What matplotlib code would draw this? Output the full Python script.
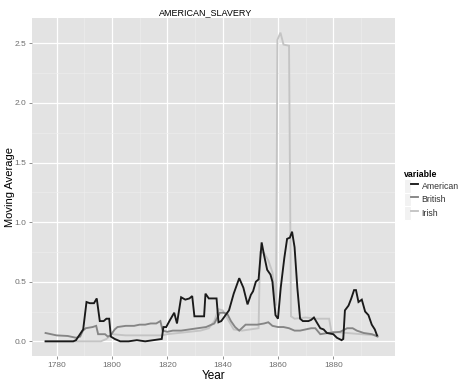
"""Moving average of AMERICAN_SLAVERY mentions by newspaper origin (ggplot look)."""

import matplotlib

matplotlib.use("Agg")
import matplotlib.pyplot as plt
from matplotlib.legend_handler import HandlerTuple
from matplotlib.lines import Line2D
from matplotlib.patches import Rectangle
from matplotlib.ticker import FixedLocator

TITLE = "AMERICAN_SLAVERY"
X_LABEL = "Year"
Y_LABEL = "Moving Average"
LEGEND_TITLE = "variable"
SERIES_NAMES = ["American", "British", "Irish"]

american_years = [
    1776, 1786, 1787, 1789.6, 1790.8, 1792, 1793.5, 1794.5, 1795.6, 1797, 1798,
    1799, 1799.6, 1801, 1803, 1806, 1809, 1812, 1815, 1818, 1818.6, 1819.6,
    1821, 1822.5, 1823.5, 1825, 1826.5, 1828, 1829, 1829.8, 1832, 1833.3,
    1833.8, 1835, 1836.5, 1837.8, 1838.5, 1839.5, 1842.3, 1844, 1846, 1847.5,
    1849, 1850.2, 1851, 1852, 1853, 1854.1, 1855, 1856.1, 1857.3, 1858,
    1859.1, 1860, 1861, 1862.3, 1863.3, 1864.3, 1865.1, 1866, 1867, 1868,
    1869, 1871, 1872, 1873, 1874, 1875.3, 1876.5, 1877.7, 1880, 1881.3, 1883,
    1883.6, 1884.2, 1885.5, 1886.5, 1887.5, 1888.2, 1889.1, 1890.3, 1891.5,
    1892.7, 1893.9, 1895, 1895.8,
]
american_values = [
    0.0, 0.0, 0.01, 0.10, 0.33, 0.32, 0.32, 0.36, 0.17, 0.17, 0.19,
    0.19, 0.04, 0.02, 0.0, 0.0, 0.01, 0.0, 0.01, 0.02, 0.12, 0.12,
    0.18, 0.24, 0.15, 0.37, 0.35, 0.36, 0.38, 0.21, 0.21, 0.21,
    0.40, 0.36, 0.36, 0.36, 0.16, 0.17, 0.26, 0.40, 0.53, 0.45,
    0.31, 0.39, 0.42, 0.50, 0.52, 0.83, 0.72, 0.60, 0.56, 0.50,
    0.22, 0.19, 0.45, 0.70, 0.86, 0.87, 0.92, 0.79, 0.45, 0.19,
    0.17, 0.17, 0.18, 0.20, 0.16, 0.11, 0.10, 0.07, 0.06, 0.03, 0.01,
    0.02, 0.26, 0.30, 0.36, 0.43, 0.43, 0.33, 0.35, 0.25,
    0.22, 0.14, 0.10, 0.05,
]

british_years = [
    1776, 1778, 1780, 1784, 1787, 1788.5, 1789.5, 1790.5, 1793, 1794.3, 1795,
    1797.5, 1798.5, 1799.5, 1801, 1802, 1805, 1808, 1810, 1812, 1814, 1816,
    1817.5, 1818.3, 1820, 1822, 1825, 1828, 1831, 1834, 1837, 1839, 1840.5,
    1841.7, 1843, 1844.5, 1846, 1848.3, 1850, 1852.5, 1855, 1856.5, 1858,
    1860, 1862, 1864, 1866, 1868, 1870, 1872, 1873.5, 1875.3, 1878, 1882.5,
    1885, 1887, 1888.5, 1891, 1894, 1896,
]
british_values = [
    0.07, 0.06, 0.05, 0.045, 0.03, 0.04, 0.09, 0.11, 0.12, 0.13, 0.06,
    0.06, 0.04, 0.05, 0.10, 0.12, 0.13, 0.13, 0.14, 0.14, 0.15, 0.15,
    0.17, 0.09, 0.08, 0.09, 0.09, 0.10, 0.11, 0.12, 0.15, 0.24, 0.24,
    0.23, 0.17, 0.12, 0.09, 0.14, 0.14, 0.14, 0.15, 0.16, 0.13,
    0.12, 0.12, 0.11, 0.09, 0.09, 0.10, 0.11, 0.11, 0.06, 0.07, 0.08,
    0.11, 0.11, 0.09, 0.07, 0.06, 0.04,
]

irish_years = [
    1776, 1796, 1798, 1800, 1805, 1810, 1815, 1818, 1820, 1824, 1828, 1832,
    1835, 1837, 1838.5, 1840, 1841.5, 1842.5, 1844, 1847, 1850, 1853, 1853.5,
    1855, 1856.5, 1858, 1859.3, 1859.8, 1860.9, 1862, 1864, 1864.7, 1866,
    1870, 1874, 1878.5, 1879.3, 1885, 1890, 1896,
]
irish_values = [
    0.0, 0.0, 0.02, 0.06, 0.05, 0.05, 0.05, 0.05, 0.06, 0.07, 0.08, 0.09,
    0.11, 0.17, 0.27, 0.26, 0.20, 0.16, 0.10, 0.09, 0.10, 0.11, 0.75,
    0.74, 0.68, 0.58, 0.30, 2.53, 2.59, 2.49, 2.48, 0.21, 0.19,
    0.20, 0.19, 0.19, 0.08, 0.07, 0.06, 0.05,
]

x_major = [1780, 1800, 1820, 1840, 1860, 1880]
x_minor = [1790, 1810, 1830, 1850, 1870, 1890]
y_major = [0.0, 0.5, 1.0, 1.5, 2.0, 2.5]
y_minor = [0.25, 0.75, 1.25, 1.75, 2.25]

COLORS = ["#1a1a1a", "#858585", "#c4c4c4"]
PANEL_BG = "#e3e3e3"
TEXT_GREY = "#6e6e6e"


def main() -> None:
    plt.rcParams["font.family"] = ["Liberation Sans", "DejaVu Sans"]
    fig = plt.figure(figsize=(4.6, 3.81), dpi=100)
    ax = fig.add_axes([32 / 460, 25 / 381, 363 / 460, 338 / 381])
    ax.set_facecolor(PANEL_BG)

    series = [
        (american_years, american_values),
        (british_years, british_values),
        (irish_years, irish_values),
    ]
    # draw Irish first so the darker lines sit on top, like the reference
    for idx in [2, 1, 0]:
        years, values = series[idx]
        ax.plot(years, values, color=COLORS[idx], lw=1.35, zorder=3,
                solid_joinstyle="miter")

    ax.set_xlim(1771.1, 1902.3)
    ax.set_ylim(-0.123, 2.713)
    ax.xaxis.set_major_locator(FixedLocator(x_major))
    ax.xaxis.set_minor_locator(FixedLocator(x_minor))
    ax.yaxis.set_major_locator(FixedLocator(y_major))
    ax.yaxis.set_minor_locator(FixedLocator(y_minor))
    ax.set_xticklabels([str(v) for v in x_major])
    ax.set_yticklabels([f"{v:.1f}" for v in y_major])
    ax.grid(True, which="major", color="white", lw=0.9, zorder=1)
    ax.grid(True, which="minor", color="#eeeeee", lw=0.45, zorder=1)
    ax.set_axisbelow(True)
    for spine in ax.spines.values():
        spine.set_visible(False)
    ax.tick_params(axis="both", which="major", length=2.5, width=0.6,
                   color="#7f7f7f", labelsize=6, labelcolor=TEXT_GREY, pad=1.5)
    ax.tick_params(axis="both", which="minor", length=0)

    ax.set_xlabel(X_LABEL, fontsize=8.5, labelpad=1)
    ax.set_ylabel(Y_LABEL, fontsize=8)
    ax.yaxis.set_label_coords(-17 / 363, 0.5)
    fig.text(206 / 460, 1 - 13 / 381, TITLE, ha="center", va="center",
             fontsize=6.5)

    handles = [
        (Rectangle((0, 0), 1, 1, facecolor="#f2f2f2", edgecolor="white", lw=0.8),
         Line2D([], [], color=c, lw=1.35))
        for c in COLORS
    ]
    leg = fig.legend(
        handles,
        SERIES_NAMES,
        title=LEGEND_TITLE,
        handler_map={tuple: HandlerTuple(ndivide=None, pad=0)},
        loc="upper left",
        bbox_to_anchor=(398 / 460, 1 - 164 / 381),
        frameon=False,
        fontsize=6.3,
        title_fontsize=6.3,
        handlelength=1.6,
        handleheight=2.0,
        labelspacing=0.0,
        handletextpad=0.4,
        borderpad=0.2,
        alignment="left",
    )
    leg.get_title().set_fontweight("bold")
    for text in leg.get_texts():
        text.set_color("#333333")

    fig.savefig("out.png", dpi=100)
    plt.close(fig)


if __name__ == "__main__":
    main()
